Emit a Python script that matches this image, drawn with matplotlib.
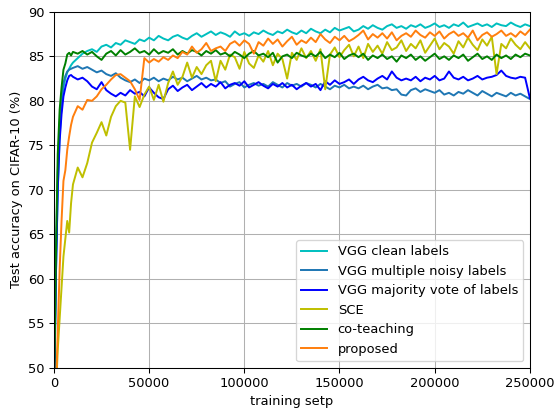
import numpy as np
import matplotlib
matplotlib.use("Agg")
import matplotlib.pyplot as plt

# training steps: every 1000 for the first 10k, then every 2500
steps = np.concatenate([np.arange(0, 10000, 1000), np.arange(10000, 250001, 2500)])

clean = [45, 60, 70, 76, 79.5, 81.5, 82.5, 83.2, 83.6, 84.0,
         84.3, 84.8, 85.3, 85.6, 85.8, 85.5, 86.1, 86.3, 86.0, 86.5,
         86.3, 86.8, 86.6, 86.4, 86.9, 86.7, 87.1, 86.8, 87.3, 87.0,
         86.8, 87.2, 87.4, 87.1, 86.9, 87.3, 87.6, 87.2, 87.5, 87.8,
         87.4, 87.7, 87.5, 87.2, 87.8, 87.4, 87.6, 87.3, 87.7, 87.5,
         87.9, 87.6, 87.4, 87.8, 87.6, 88.0, 87.7, 87.5, 87.9, 87.6,
         88.1, 87.8, 87.6, 88.0, 87.7, 88.2, 87.9, 88.1, 88.3, 87.8,
         88.0, 88.4, 88.1, 88.5, 88.2, 88.0, 88.4, 88.6, 88.2, 88.4,
         88.1, 88.5, 88.3, 88.6, 88.2, 88.4, 88.7, 88.3, 88.5, 88.2,
         88.6, 88.4, 88.8, 88.3, 88.5, 88.7, 88.4, 88.6, 88.3, 88.7,
         88.5, 88.4, 88.8, 88.5, 88.3, 88.6, 88.4]

multi_noisy = [45, 62, 72, 77.5, 80.5, 82.0, 82.8, 83.3, 83.5, 83.6,
               83.7, 83.9, 83.6, 83.8, 83.5, 83.2, 83.4, 83.0, 82.8, 83.1,
               82.6, 82.3, 82.1, 82.4, 82.0, 82.5, 82.3, 82.6, 82.2, 82.5,
               82.3, 82.7, 82.4, 82.6, 82.2, 82.5, 82.8, 82.4, 82.6, 82.3,
               82.4, 82.0, 82.2, 81.6, 81.9, 82.1, 81.5, 81.8, 82.0, 81.7,
               81.9, 81.6, 82.1, 81.8, 81.5, 82.0, 81.7, 81.9, 81.6, 82.0,
               81.8, 81.5, 81.9, 81.6, 81.3, 81.7, 81.5, 81.8, 81.4, 81.6,
               81.4, 81.7, 81.3, 81.6, 81.8, 81.4, 81.5, 81.2, 81.3, 80.7,
               80.6, 81.2, 81.4, 81.0, 81.3, 81.1, 80.9, 81.2, 80.7, 80.9,
               80.6, 81.0, 80.8, 81.2, 80.9, 80.6, 81.1, 80.8, 80.5, 80.9,
               80.7, 80.5, 80.9, 80.6, 80.8, 80.5, 80.2]

majority = [45, 60, 70, 75.5, 78.5, 80.5, 81.5, 82.3, 82.8, 82.9,
            82.7, 82.4, 82.6, 82.2, 81.6, 81.3, 82.1, 81.2, 80.8, 80.5,
            80.9, 80.6, 81.2, 80.8, 81.0, 80.5, 81.5, 80.9, 80.4, 80.2,
            81.3, 81.7, 81.1, 81.5, 81.8, 81.2, 81.6, 82.0, 81.5, 81.9,
            81.6, 82.1, 81.4, 81.8, 82.0, 81.7, 82.2, 81.5, 81.8, 82.1,
            81.7, 81.4, 81.9, 81.6, 82.0, 81.5, 81.8, 81.3, 81.7, 82.0,
            81.6, 81.9, 81.2, 82.2, 81.8, 82.3, 81.9, 82.1, 82.4, 81.9,
            82.4, 82.7, 82.3, 82.1, 82.5, 82.8, 82.4, 83.3, 82.6, 82.3,
            82.5, 82.3, 82.7, 82.2, 82.6, 82.4, 82.8, 82.3, 82.5, 83.3,
            82.6, 82.4, 82.7, 82.3, 82.5, 82.8, 82.4, 82.6, 82.7, 82.9,
            83.4, 82.8, 82.6, 82.5, 82.7, 82.6, 80.3]

sce = [44, 47, 52, 55.5, 59, 62.5, 64.5, 66.5, 65.2, 68.5,
       70.6, 72.5, 71.4, 73.0, 75.3, 76.4, 77.6, 76.1, 78.2, 79.4,
       80.0, 79.8, 74.5, 80.5, 79.3, 80.7, 81.6, 80.1, 81.8, 79.9,
       82.0, 83.3, 81.8, 82.7, 84.3, 82.6, 83.8, 83.0, 84.0, 84.5,
       82.2, 84.5, 83.5, 85.2, 84.9, 83.6, 85.5, 84.2, 83.7, 85.1,
       84.4, 85.6, 84.0, 85.3, 84.7, 82.5, 85.4, 84.6, 85.9, 84.8,
       85.6, 84.5, 85.8, 81.3, 85.2, 86.0, 84.9, 85.7, 86.3, 85.0,
       86.1, 84.8, 86.4, 85.5, 86.2, 85.3, 86.6, 85.7, 86.0, 86.8,
       85.6, 86.4, 85.9, 86.8, 85.4, 86.2, 87.0, 85.8, 86.5, 86.1,
       85.3, 86.7, 86.0, 87.1, 86.3, 85.7, 86.9, 86.2, 87.2, 83.0,
       86.4, 85.9, 87.0, 86.3, 85.8, 86.6, 85.9]

coteach = [45, 62, 74, 79, 81.5, 83.5, 84.2, 85.2, 85.4, 85.1,
           85.5, 85.3, 85.6, 85.2, 85.5, 85.0, 84.6, 85.3, 85.6, 85.1,
           85.7, 85.2, 85.5, 85.9, 85.4, 85.6, 85.2, 85.8, 85.3, 85.6,
           85.4, 85.8, 85.2, 85.6, 85.3, 85.7, 85.5, 85.1, 85.6, 85.3,
           85.7, 85.2, 85.4, 85.0, 85.5, 85.2, 84.8, 85.3, 85.6, 85.1,
           85.3, 84.9, 85.4, 84.3, 85.0, 85.2, 84.8, 85.4, 85.1, 84.9,
           85.3, 85.0, 85.5, 84.8, 85.2, 84.9, 85.4, 84.7, 85.1, 85.3,
           84.9, 85.3, 84.6, 85.1, 84.8, 85.2, 84.7, 85.0, 84.4, 85.1,
           84.8, 85.2, 84.6, 85.0, 84.5, 84.9, 85.3, 84.7, 85.0, 84.6,
           85.1, 84.8, 85.2, 84.5, 84.9, 85.3, 84.7, 85.0, 84.6, 85.2,
           84.8, 85.1, 84.7, 85.2, 84.9, 85.3, 85.1]

proposed = [44, 47, 54, 61.0, 66.5, 71.0, 72.2, 74.5, 76.0, 77.3,
            78.2, 79.4, 79.0, 80.1, 80.0, 80.5, 81.3, 81.8, 82.4, 82.9,
            83.0, 82.6, 82.2, 81.3, 80.1, 84.8, 84.3, 84.7, 84.4, 84.9,
            84.6, 85.1, 84.8, 85.5, 85.2, 86.1, 85.4, 85.8, 86.5, 85.6,
            85.9, 86.1, 85.6, 86.4, 86.7, 86.2, 86.8, 86.4, 85.3, 86.6,
            86.2, 87.0, 86.4, 86.9, 86.1, 86.7, 87.2, 86.3, 86.8, 86.5,
            87.1, 86.6, 87.5, 86.9, 86.5, 87.2, 86.8, 87.3, 86.7, 87.0,
            87.4, 87.9, 86.9, 87.5, 87.1, 87.6, 87.0, 87.7, 86.8, 87.3,
            87.6, 87.2, 87.9, 87.4, 87.1, 87.7, 87.3, 87.8, 87.0, 87.5,
            87.8, 87.3, 87.6, 87.1, 87.9, 86.8, 87.4, 87.7, 87.2, 87.5,
            87.9, 87.3, 87.6, 87.2, 87.8, 87.4, 88.0]

series = [
    ("VGG clean labels", clean, "c"),
    ("VGG multiple noisy labels", multi_noisy, "tab:blue"),
    ("VGG majority vote of labels", majority, "b"),
    ("SCE", sce, "y"),
    ("co-teaching", coteach, "g"),
    ("proposed", proposed, "tab:orange"),
]

DPI = 94
fig = plt.figure(figsize=(556 / DPI, 409 / DPI), dpi=DPI)
ax = fig.add_axes([0.097, 0.101, 0.856, 0.870])
for label, vals, col in series:
    ax.plot(steps, vals, color=col, label=label, linewidth=1.5)

ax.set_xlim(0, 250000)
ax.set_ylim(50, 90)
ax.set_xticks(np.arange(0, 250001, 50000))
ax.set_yticks(np.arange(50, 91, 5))
ax.set_xlabel("training setp")
ax.set_ylabel("Test accuracy on CIFAR-10 (%)")
ax.grid(True)
ax.legend(loc="lower right")
fig.savefig("out.png", dpi=DPI)
